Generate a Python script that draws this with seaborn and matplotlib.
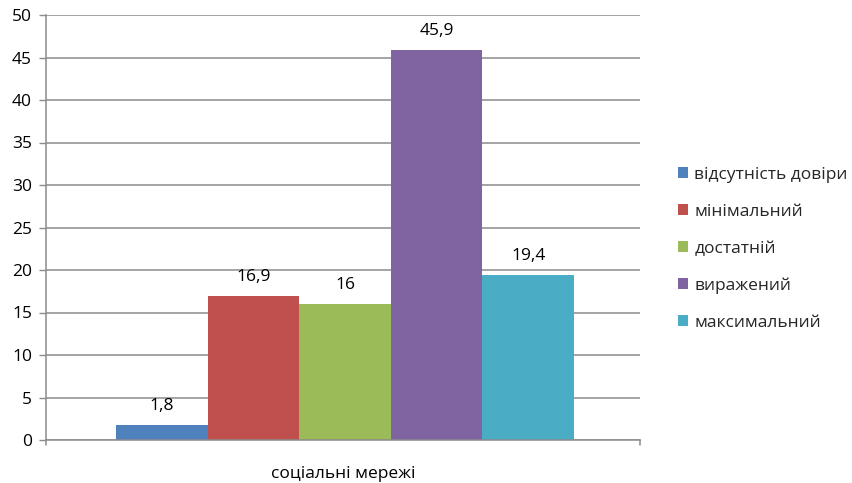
import matplotlib
matplotlib.use("Agg")
import matplotlib.pyplot as plt
import seaborn as sns
import pandas as pd

category = ["соціальні мережі"]
series = ["відсутність довіри", "мінімальний", "достатній", "виражений", "максимальний"]
values = [1.8, 16.9, 16, 45.9, 19.4]
colors = ["#4F81BD", "#C0504D", "#9BBB59", "#8064A2", "#4BACC6"]
yticks = list(range(0, 55, 5))

df = pd.DataFrame({"cat": category * len(series), "series": series, "value": values})

sns.set_theme(style="white")
plt.rcParams["font.family"] = ["Open Sans", "DejaVu Sans"]

FS = 12.5

fig = plt.figure(figsize=(8.53, 4.83), dpi=100)
ax = fig.add_axes([46 / 853, 1 - 440 / 483, (640 - 46) / 853, (440 - 15) / 483])

sns.barplot(data=df, x="cat", y="value", hue="series", hue_order=series,
            palette=colors, width=0.771, saturation=1, ax=ax, legend=True,
            edgecolor="none", linewidth=0)

# shift the cluster slightly right of the category centre
for cont in ax.containers:
    for p in cont.patches:
        p.set_x(p.get_x() + 0.0035)

for cont, v in zip(ax.containers, values):
    lbl = f"{v:g}".replace(".", ",")
    ax.bar_label(cont, labels=[lbl], padding=8, fontsize=FS, color="#000000")

ax.set_xlim(-0.5, 0.5)
ax.set_ylim(0, 50)
ax.set_yticks(yticks)
ax.set_yticklabels([str(t) for t in yticks], fontsize=FS, color="#000000")
ax.yaxis.grid(True, color="#8C8C8C", linewidth=1.1)
ax.set_axisbelow(True)
ax.set_xlabel("")
ax.set_ylabel("")
ax.tick_params(axis="x", labelsize=FS, colors="#000000", length=0, pad=19)
ax.tick_params(axis="y", length=5, width=1, color="#8C8C8C", left=True, pad=5)

for side in ["top", "right"]:
    ax.spines[side].set_visible(False)
for side in ["left", "bottom"]:
    ax.spines[side].set_color("#8C8C8C")
    ax.spines[side].set_linewidth(1.1)

# small category boundary ticks below the x axis
for xb in (-0.5, 0.5):
    ax.plot([xb, xb], [0, -0.6], color="#8C8C8C", lw=1.1, clip_on=False)

leg = ax.legend(loc="center left", bbox_to_anchor=(671 / 853, 1 - 249 / 483),
                bbox_transform=fig.transFigure, frameon=False, fontsize=FS,
                handlelength=0.6, handleheight=0.6, handletextpad=0.35,
                labelspacing=1.2, borderaxespad=0)

fig.savefig("out.png", dpi=100, facecolor="white")
